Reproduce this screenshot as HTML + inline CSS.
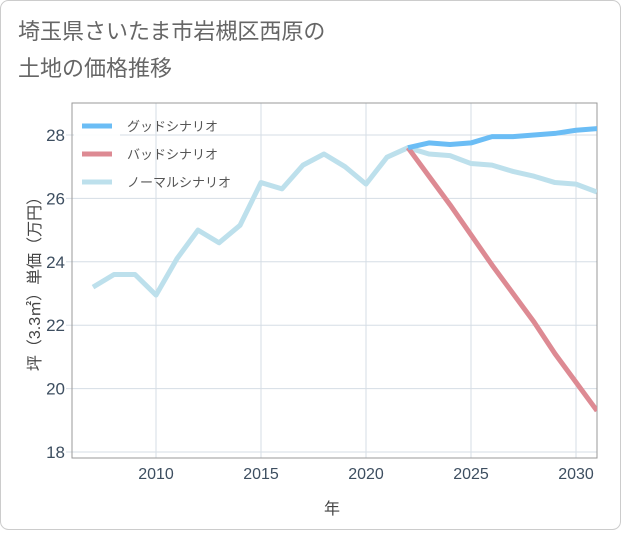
<!DOCTYPE html>
<html><head><meta charset="utf-8"><style>
body{margin:0;background:#fff;font-family:"Liberation Sans","Noto Sans CJK JP",sans-serif;}
#wrap{position:relative;width:621px;height:530px;}
</style></head><body>
<div id="wrap">
<svg id="chart" width="621" height="530" xmlns="http://www.w3.org/2000/svg">
<rect x="0.5" y="0.5" width="620" height="529" rx="8" fill="#fff" stroke="#ccc"/>
<text x="18" y="39" font-size="22" fill="#666">埼玉県さいたま市岩槻区西原の</text>
<text x="18" y="76" font-size="22" fill="#666">土地の価格推移</text>
<g id="grid"></g>
<g id="series"></g>
<g id="legend"></g>
<text x="332" y="514" font-size="16" fill="#444" text-anchor="middle">年</text>
<text transform="translate(40,280) rotate(-90)" font-size="16" fill="#444" text-anchor="middle">坪（3.3㎡）単価（万円）</text>
</svg>
</div>
<script>
const years=[2007,2008,2009,2010,2011,2012,2013,2014,2015,2016,2017,2018,2019,2020,2021,2022,2023,2024,2025,2026,2027,2028,2029,2030,2031];
const normalValues=[23.2,23.6,23.6,22.95,24.1,25.0,24.6,25.15,26.5,26.3,27.05,27.4,27.0,26.45,27.3,27.6,27.4,27.35,27.1,27.05,26.85,26.7,26.5,26.45,26.2];
const futureYears=[2022,2023,2024,2025,2026,2027,2028,2029,2030,2031];
const goodValues=[27.6,27.75,27.7,27.75,27.95,27.95,28.0,28.05,28.15,28.2];
const badValues=[27.6,26.7,25.8,24.85,23.9,23.0,22.1,21.1,20.2,19.3];
const xTicks=[2010,2015,2020,2025,2030];
const yTicks=[18,20,22,24,26,28];
const legendLabels=["グッドシナリオ","バッドシナリオ","ノーマルシナリオ"];
const colors=["#6bbdf5","#dd8a93","#bde0ec"];
const L=72,R=597,T=103,B=458;
const X=v=>156+(v-2010)*21;
const Y=v=>135+(28-v)*31.7;
const NS="http://www.w3.org/2000/svg";
function mk(t,a,p){const e=document.createElementNS(NS,t);for(const k in a)e.setAttribute(k,a[k]);p.appendChild(e);return e;}
const g=document.getElementById('grid');
xTicks.forEach(t=>{const l=mk('line',{x1:X(t),x2:X(t),y1:T,y2:B,stroke:'#d5dde5'},g);


const tx=mk('text',{x:X(t),y:479,'font-size':16,fill:'#3d4e60','text-anchor':'middle'},g);tx.textContent=t;

});
yTicks.forEach(t=>{const l=mk('line',{x1:L-6,x2:R,y1:Y(t),y2:Y(t),stroke:'#d5dde5'},g);


const tx=mk('text',{x:65,y:Y(t)+6,'font-size':17,fill:'#3d4e60','text-anchor':'end'},g);tx.textContent=t;

});
const fr=mk('rect',{x:L,y:T,width:R-L,height:B-T,fill:'none',stroke:'#999','stroke-width':1},g);


const s=document.getElementById('series');
const clip=mk('clipPath',{id:'cp'},s);mk('rect',{x:L,y:T,width:R-L,height:B-T},clip);
function line(xs,vs,c,name){const p=mk('polyline',{points:xs.map((x,i)=>X(x)+','+Y(vs[i])).join(' '),fill:'none',stroke:c,'stroke-width':5,'stroke-linejoin':'round','clip-path':'url(#cp)'},s);

}
line(years,normalValues,colors[2],'normal-scenario-line');
line(futureYears,badValues,colors[1],'bad-scenario-line');
line(futureYears,goodValues,colors[0],'good-scenario-line');
const lg=document.getElementById('legend');
const bg=mk('rect',{x:74,y:110,width:46,height:86,fill:'#fff','fill-opacity':0.9},lg);


legendLabels.forEach((lab,i)=>{const y=126+i*28;
const l=mk('line',{x1:82,x2:112,y1:y,y2:y,stroke:colors[i],'stroke-width':5},lg);


const t=mk('text',{x:127,y:y+5,'font-size':13,fill:'#555'},lg);t.textContent=lab;

});
</script>
</body></html>
